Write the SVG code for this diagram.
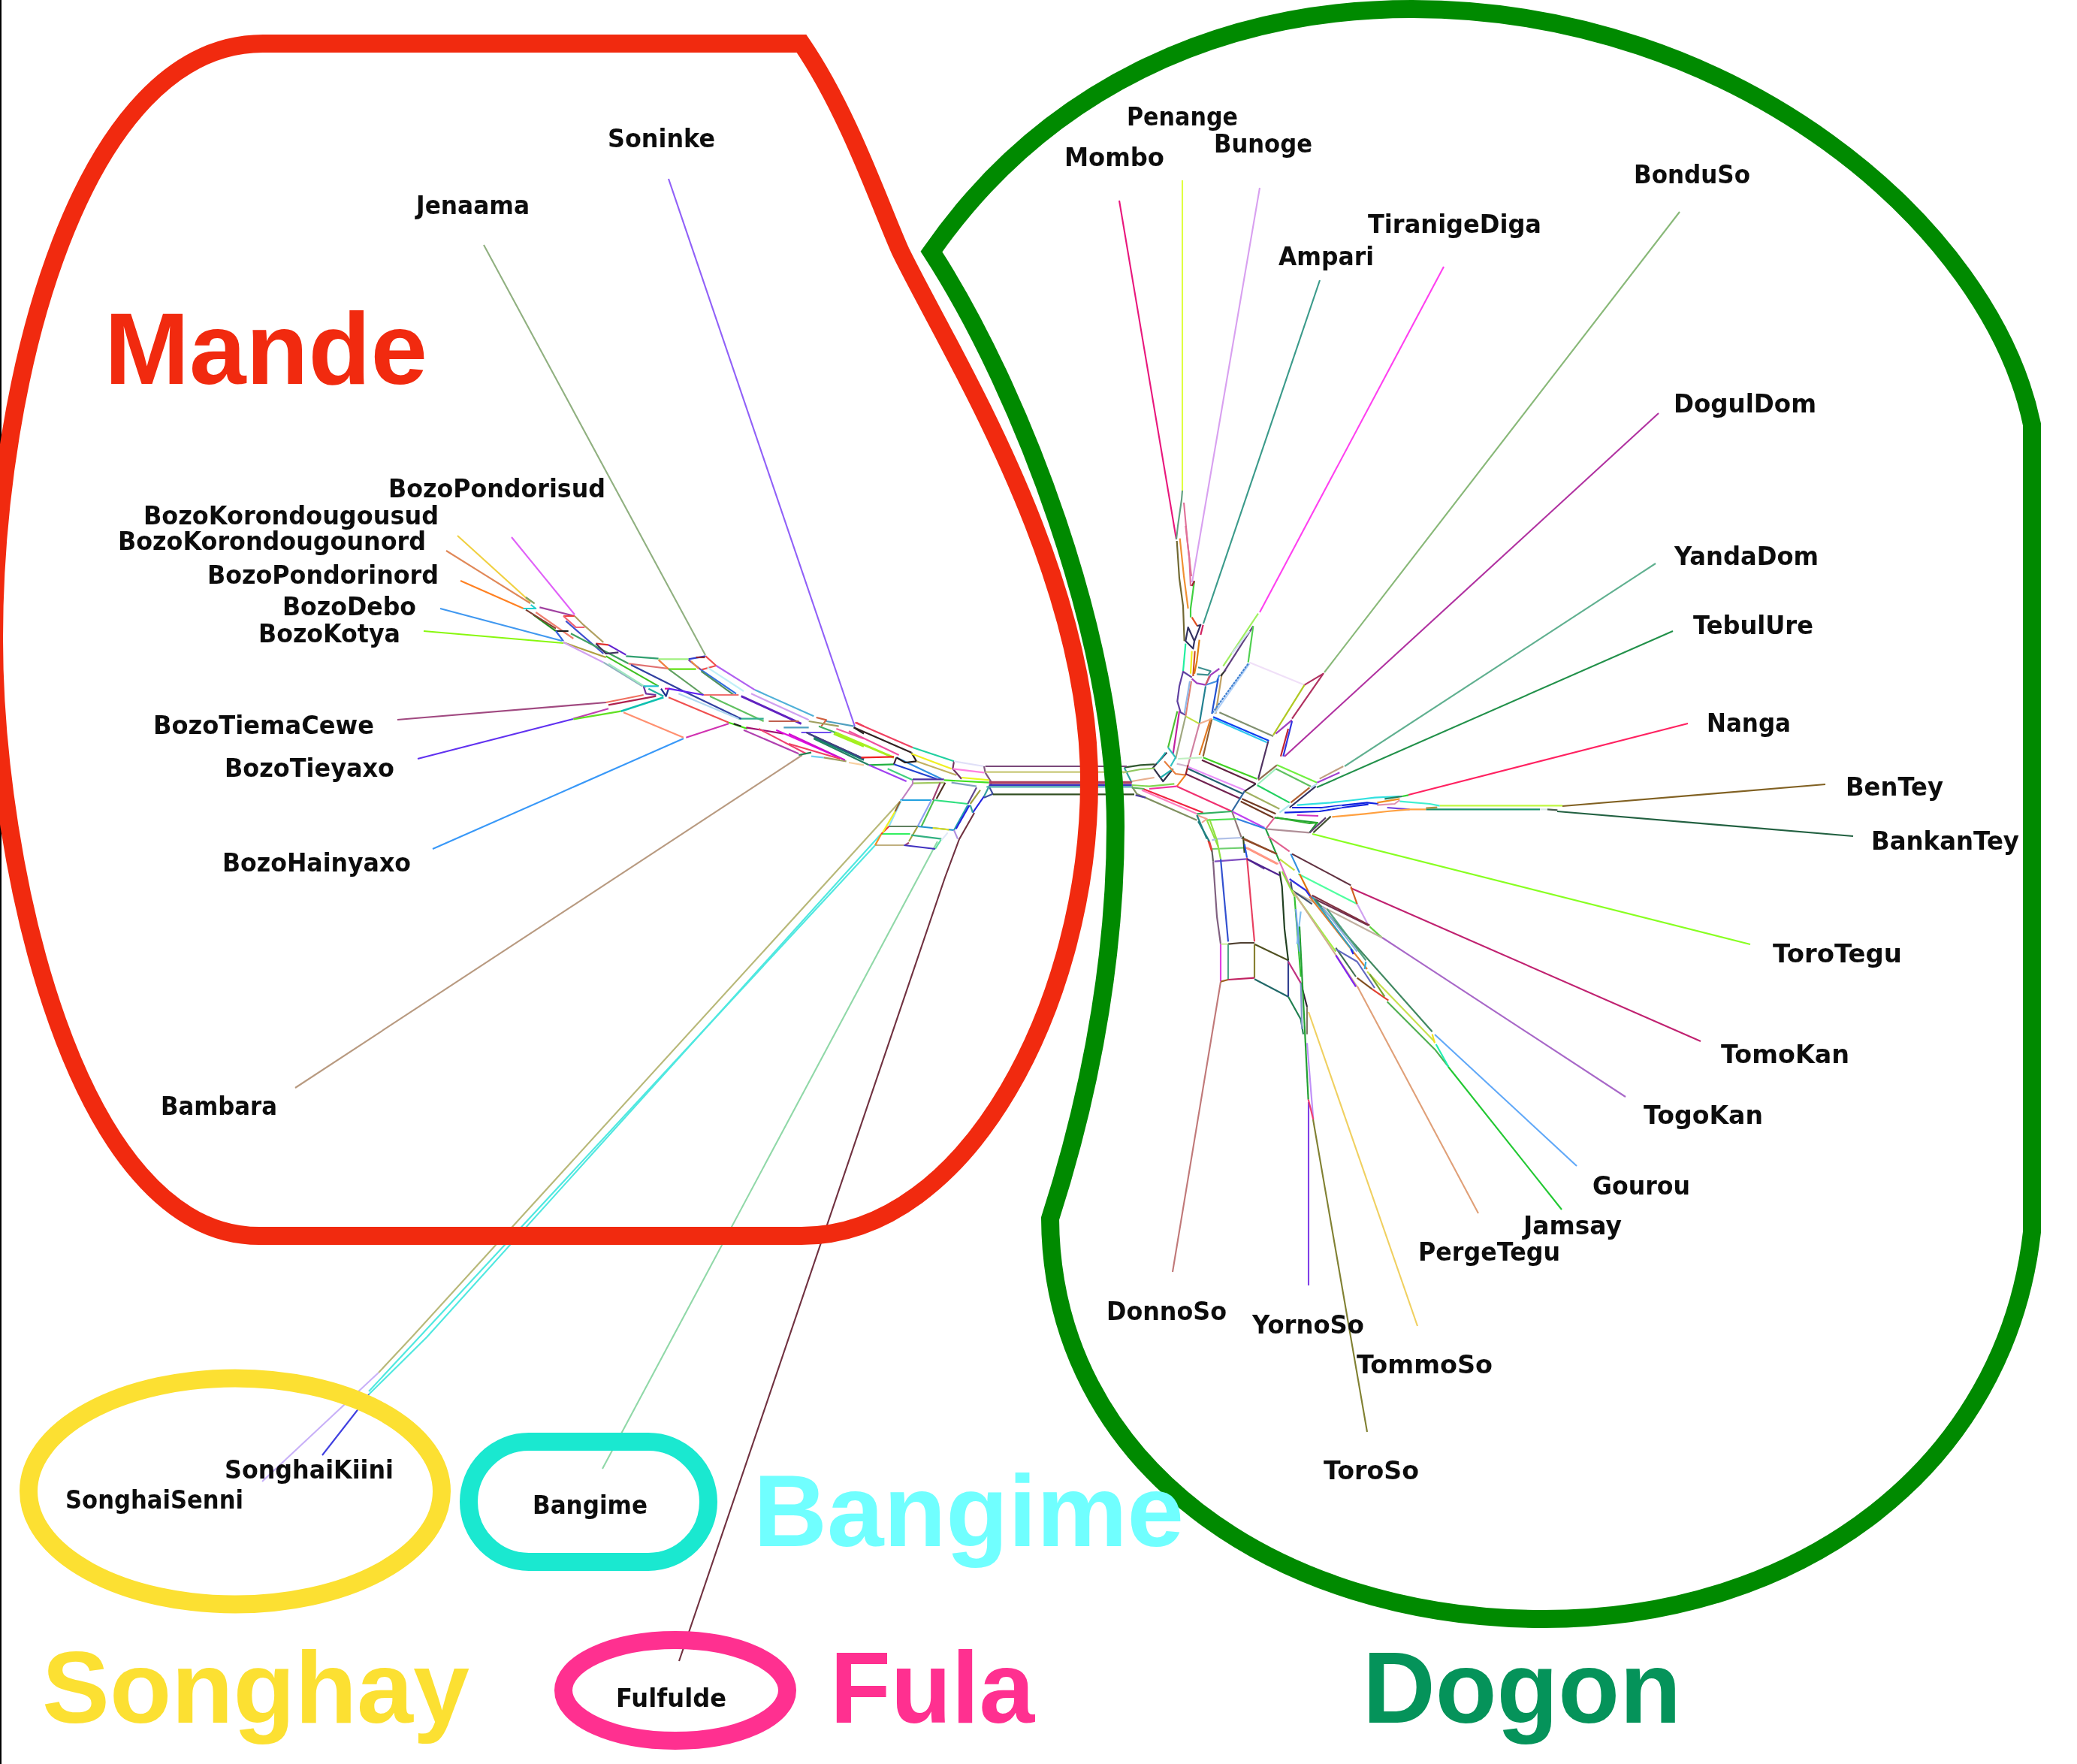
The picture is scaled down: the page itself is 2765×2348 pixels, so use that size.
<svg xmlns="http://www.w3.org/2000/svg" width="2765" height="2348" viewBox="0 0 2765 2348">
<style>
.bg{fill:#fff}
.lab{font-family:"DejaVu Sans",Verdana,sans-serif;font-weight:700;font-size:34px;fill:#111}
.big{font-family:"Liberation Sans",Arial,sans-serif;font-weight:700;font-size:135px}
.out{fill:none;stroke-width:24}
#connectors path{fill:none;stroke-linejoin:round}
.f path{stroke-width:2.1}
.z path{stroke-width:6.5}
</style>
<defs><filter id="soft" x="-2%" y="-2%" width="104%" height="104%"><feGaussianBlur stdDeviation="0.45"/></filter></defs>
<rect class="bg" width="2765" height="2348"/>
<path d="M1 0V2348" stroke="#000" stroke-width="2"/>
<g id="connectors" filter="url(#soft)">
<g class="f">
<path stroke="#e8187c" d="M1490 267 1566 718"/>
<path stroke="#e0ff40" d="M1574 240V653"/>
<path stroke="#60a080" d="M1574 653 1573 665 1568 700 1566 718"/>
<path stroke="#e07098" d="M1576 669 1581 723 1586 767"/>
<path stroke="#d8a0f0" d="M1677 250 1587 775"/>
<path stroke="#3a9a8a" d="M1757 373 1602 830"/>
<path stroke="#ff40f0" d="M1922 355 1677 815"/>
<path stroke="#88b878" d="M2236 282 1763 895"/>
<path stroke="#b030a0" d="M2208 550 1710 1007"/>
<path stroke="#60b090" d="M2204 750 1790 1020"/>
<path stroke="#20904a" d="M2227 840 1753 1048"/>
<path stroke="#ff2060" d="M2247 963 1875 1058"/>
<path stroke="#806020" d="M2430 1044 2080 1073"/>
<path stroke="#206040" d="M2467 1113 2073 1080"/>
<path stroke="#88ff20" d="M2330 1257 1747 1110"/>
<path stroke="#c02070" d="M2264 1386 1798 1182"/>
<path stroke="#a868c8" d="M2164 1460 1840 1248"/>
<path stroke="#60a8f8" d="M2099 1552 1910 1377"/>
<path stroke="#20c830" d="M2079 1610 1928 1420"/>
<path stroke="#e0a078" d="M1968 1615 1807 1313"/>
<path stroke="#f0d060" d="M1887 1765 1742 1347"/>
<path stroke="#8040e8" d="M1742 1711V1467"/>
<path stroke="#808030" d="M1820 1906 1748 1490"/>
<path stroke="#c07878" d="M1561 1693 1625 1307"/>
<path stroke="#9060f8" d="M890 238 1138 967"/>
<path stroke="#90b080" d="M644 326 939 872"/>
<path stroke="#e060f8" d="M681 715 765 818"/>
<path stroke="#f0d040" d="M609 713 706 801"/>
<path stroke="#e08858" d="M594 733 706 803"/>
<path stroke="#ff8020" d="M613 773 697 810"/>
<path stroke="#4098f0" d="M586 810 748 853"/>
<path stroke="#88f810" d="M564 840 750 856"/>
<path stroke="#a04880" d="M529 958 807 935"/>
<path stroke="#6030f0" d="M556 1010 763 957"/>
<path stroke="#3898f8" d="M576 1130 910 983"/>
<path stroke="#b89a80" d="M393 1448 1068 1005"/>
<path stroke="#c8b0f8" d="M349 1972 504 1827"/>
<path stroke="#b8b878" d="M1198 1067 548 1780 504 1827"/>
<path stroke="#50e8e0" d="M1167 1123 558 1780 491 1852"/>
<path stroke="#50e8e0" d="M1173 1110 568 1780 491 1856"/>
<path stroke="#4040e0" d="M429 1937 475 1878 491 1856"/>
<path stroke="#90d8a8" d="M802 1955 1248 1120"/>
<path stroke="#703040" d="M904 2211 1258 1168 1277 1117 1297 1082"/>
</g>
<g class="z" transform="translate(1450 700) scale(.33333)">
<path stroke="#706830" d="M350 60 360 210 375 320 380 460"/>
<path stroke="#f09030" d="M362 50 378 200 395 330"/>
<path stroke="#e07098" d="M385 0 400 130 405 240"/>
<path stroke="#40d040" d="M420 220 405 330 405 365"/>
<path stroke="#a02030" d="M420 220 410 240"/>
<path stroke="#e05020" d="M410 365 432 400"/>
<path stroke="#303060" d="M432 400 445 395 420 460 415 490 385 460 395 405 420 460"/>
<path stroke="#d02060" d="M455 395 445 435"/>
<path stroke="#e08010" d="M440 455 430 540 420 590"/>
<path stroke="#d05020" d="M422 500 415 600"/>
<path stroke="#f0f020" d="M410 500 405 590"/>
<path stroke="#20f0a0" d="M385 470 375 580"/>
<path stroke="#6040a0" d="M410 605 375 582 360 640 352 700 365 745 385 755"/>
<path stroke="#a040c0" d="M410 610 430 628 465 635 485 595 520 570"/>
<path stroke="#409090" d="M435 565 485 580 475 595 430 592"/>
<path stroke="#4090e0" d="M465 635 510 620 520 595"/>
<path stroke="#208090" d="M465 640 440 790"/>
<path stroke="#e08070" d="M408 620 385 760"/>
<path stroke="#90b8e8" d="M402 620 380 750"/>
<path stroke="#d06060" d="M480 600 465 635"/>
<path stroke="#2050d0" d="M515 610 490 750"/>
<path stroke="#c0a060" d="M530 590 505 750"/>
<path stroke="#303030" d="M545 575 525 600"/>
<path stroke="#604080" d="M655 400 540 580"/>
<path stroke="#a0f060" d="M675 350 535 560"/>
<path stroke="#d0dff0" d="M640 420 570 510"/>
<path stroke="#50d050" d="M655 400 635 545"/>
<path stroke="#b0d0f8" d="M640 550 500 750"/>
<path stroke="#4080d0" d="M635 550 490 750" stroke-dasharray="10 3"/>
<path stroke="#f0e0f8" d="M640 545 860 635"/>
<path stroke="#b0c820" d="M860 635 735 835"/>
<path stroke="#b03060" d="M860 635 935 590 810 770"/>
<path stroke="#a040c0" d="M810 775 745 830"/>
<path stroke="#3030e0" d="M810 780 775 920"/>
<path stroke="#c02030" d="M795 810 765 920"/>
<path stroke="#809070" d="M520 745 735 840"/>
<path stroke="#30c8f0" d="M495 770 710 865"/>
<path stroke="#1040f0" d="M495 763 718 858"/>
<path stroke="#503060" d="M715 860 675 1010"/>
<path stroke="#906030" d="M490 770 455 920"/>
<path stroke="#e07820" d="M485 770 440 915"/>
<path stroke="#c0e040" d="M385 760 440 790"/>
<path stroke="#f0b090" d="M440 790 490 770"/>
<path stroke="#a0a880" d="M385 760 345 930"/>
<path stroke="#d080a0" d="M440 790 395 955"/>
<path stroke="#c020a0" d="M360 740 335 910"/>
<path stroke="#50c030" d="M352 740 315 885"/>
<path stroke="#303048" d="M310 905 255 965 295 1020 335 970"/>
<path stroke="#20b0b0" d="M305 905 270 950M335 970 285 1005"/>
<path stroke="#30c0c0" d="M315 885 345 925 325 960"/>
<path stroke="#e88040" d="M300 940 345 990 385 995"/>
<path stroke="#f08020" d="M385 995 350 1040"/>
<path stroke="#c0f0c0" d="M355 930 450 925"/>
<path stroke="#d0b8d0" d="M350 950 395 960"/>
<path stroke="#a02020" d="M395 955 385 995"/>
<path stroke="#40d020" d="M455 925 670 1010"/>
<path stroke="#602040" d="M450 935 665 1030"/>
<path stroke="#e890f8" d="M395 962 620 1055"/>
<path stroke="#206070" d="M395 970 615 1070"/>
<path stroke="#702050" d="M385 990 605 1090"/>
<path stroke="#f03070" d="M350 1040 570 1140"/>
<path stroke="#f02040" d="M215 1050 455 1145"/>
<path stroke="#ff80c0" d="M210 1055 430 1150"/>
<path stroke="#809060" d="M170 1040 190 1070 430 1175"/>
<path stroke="#f030a0" d="M240 1050 350 1040"/>
<path stroke="#20d060" d="M670 1035 800 1105"/>
<path stroke="#a0b060" d="M620 1060 760 1130"/>
<path stroke="#703820" d="M610 1090 745 1150M605 1100 735 1165"/>
<path stroke="#302838" d="M665 1030 620 1060"/>
<path stroke="#3068a0" d="M620 1060 570 1140"/>
<path stroke="#907050" d="M675 1015 750 955"/>
<path stroke="#a0f0c0" d="M745 970 670 1035"/>
<path stroke="#70f040" d="M750 955 910 1025"/>
<path stroke="#60c060" d="M745 970 885 1040"/>
<path stroke="#303060" d="M905 1040 800 1125"/>
<path stroke="#b06030" d="M880 1045 805 1105"/>
<path stroke="#a040d0" d="M910 1025 1000 985"/>
<path stroke="#c0a080" d="M920 1010 1015 960"/>
<path stroke="#b0d8f0" d="M885 1045 910 1030"/>
<path stroke="#b0e8f0" d="M800 1115 760 1145"/>
<path stroke="#c040f0" d="M570 1140 700 1205"/>
<path stroke="#3080e0" d="M590 1170 705 1210"/>
<path stroke="#907878" d="M570 1140 610 1250"/>
<path stroke="#e06090" d="M705 1210 740 1165"/>
<path stroke="#b09098" d="M705 1210 880 1225"/>
<path stroke="#20a030" d="M740 1165 910 1185 880 1225"/>
<path stroke="#604070" d="M880 1225 945 1165"/>
<path stroke="#405030" d="M895 1225 965 1160"/>
<path stroke="#30b060" d="M430 1150 570 1140"/>
<path stroke="#50e050" d="M470 1175 590 1170"/>
<path stroke="#f0a090" d="M430 1155 470 1170 450 1185"/>
<path stroke="#208080" d="M430 1155 470 1250"/>
<path stroke="#f03020" d="M475 1255 490 1300"/>
<path stroke="#90e040" d="M470 1175 515 1280"/>
<path stroke="#b0c0e8" d="M490 1255 510 1250 610 1245"/>
<path stroke="#70d070" d="M490 1290 625 1285"/>
<path stroke="#8050c0" d="M500 1340 630 1330"/>
<path stroke="#906040" d="M610 1245 750 1310"/>
<path stroke="#ff9070" d="M625 1285 750 1350"/>
<path stroke="#604098" d="M630 1330 700 1370"/>
<path stroke="#305830" d="M140 965 205 955 262 952"/>
<path stroke="#90c860" d="M135 985 205 972 262 968"/>
<path stroke="#e8b090" d="M170 1020 260 1005"/>
<path stroke="#30a0a0" d="M140 965 170 1025"/>
<path stroke="#80d850" d="M170 1035 240 1040 340 1030"/>
<path stroke="#60b060" d="M170 1045 220 1050"/>
<path stroke="#5040a0" d="M185 1075 225 1085"/>
</g>
<g class="z" transform="translate(1550 1080) scale(.33333)">
<path stroke="#806080" d="M195 200 210 420 225 530"/>
<path stroke="#3050d0" d="M225 190 255 520"/>
<path stroke="#e84060" d="M330 185 360 520"/>
<path stroke="#504030" d="M255 530 305 525 360 525"/>
<path stroke="#d0f0a0" d="M225 530 255 530"/>
<path stroke="#505020" d="M360 530 495 595"/>
<path stroke="#e040e0" d="M225 530V680"/>
<path stroke="#50a888" d="M255 530V675"/>
<path stroke="#888030" d="M360 530V665"/>
<path stroke="#a06020" d="M225 680 255 672"/>
<path stroke="#c02060" d="M255 672 360 665"/>
<path stroke="#206868" d="M360 670 495 740"/>
<path stroke="#304090" d="M495 595V740"/>
<path stroke="#208050" d="M495 740 545 830 555 890"/>
<path stroke="#c03080" d="M495 600 545 685"/>
<path stroke="#302030" d="M545 685 570 780"/>
<path stroke="#8098c8" d="M545 685 550 870"/>
<path stroke="#807868" d="M570 780V890"/>
<path stroke="#204020" d="M460 240 470 300 480 470 495 595"/>
<path stroke="#30c030" d="M520 340 545 660"/>
<path stroke="#20a040" d="M405 70 460 200"/>
<path stroke="#305020" d="M315 100 320 165"/>
<path stroke="#2050e0" d="M320 130 330 185"/>
<path stroke="#904828" d="M315 110 450 170"/>
<path stroke="#ff9888" d="M330 145 455 210"/>
<path stroke="#502090" d="M330 190 460 255"/>
<path stroke="#e06090" d="M415 100 500 160"/>
<path stroke="#3090e0" d="M505 170 540 245"/>
<path stroke="#603040" d="M510 170 745 295"/>
<path stroke="#50ffa0" d="M535 250 770 370"/>
<path stroke="#d06020" d="M745 300 770 370"/>
<path stroke="#d0a0f0" d="M770 370 815 455"/>
<path stroke="#703050" d="M815 455 590 345"/>
<path stroke="#60d040" d="M820 460 870 505"/>
<path stroke="#c0b0a0" d="M870 505 515 320"/>
<path stroke="#e07010" d="M540 250 590 350"/>
<path stroke="#c0e040" d="M460 190 520 235"/>
<path stroke="#e070c0" d="M460 200 520 340"/>
<path stroke="#3030e0" d="M500 270 565 315 590 350"/>
<path stroke="#405070" d="M505 280 510 315 590 370"/>
<path stroke="#90e040" d="M470 240 520 340"/>
<path stroke="#e04040" d="M180 120 190 155"/>
<path stroke="#606060" d="M195 200 190 155"/>
<path stroke="#208080" d="M135 40 180 120"/>
<path stroke="#90e040" d="M180 30 210 115 225 190"/>
<path stroke="#80c0f0" d="M545 400 530 530"/>
</g>
<g class="z" transform="translate(1680 1150) scale(.33333)">
<path stroke="#a0f040" d="M120 105 295 350"/>
<path stroke="#d0b090" d="M125 110 380 490"/>
<path stroke="#e08030" d="M190 130 360 345 420 420"/>
<path stroke="#30a0c0" d="M200 130 365 350"/>
<path stroke="#408860" d="M210 140 680 670"/>
<path stroke="#50a080" d="M260 180 415 385"/>
<path stroke="#90b0e0" d="M240 170 380 350"/>
<path stroke="#c8e050" d="M420 430 690 710"/>
<path stroke="#50b050" d="M500 550 690 740 745 810"/>
<path stroke="#f0e020" d="M680 680 690 715"/>
<path stroke="#20f0b0" d="M695 720 745 810"/>
<path stroke="#407050" d="M295 335 375 450"/>
<path stroke="#8020f0" d="M295 365 375 490"/>
<path stroke="#6068c0" d="M295 340 380 390 450 495"/>
<path stroke="#805020" d="M380 455 440 500"/>
<path stroke="#e04030" d="M440 500 505 545"/>
<path stroke="#70a030" d="M430 440 490 530"/>
<path stroke="#30b0e0" d="M415 390 410 420"/>
<path stroke="#2020f0" d="M355 340 365 360"/>
<path stroke="#c090f8" d="M180 715 205 1020"/>
<path stroke="#f04070" d="M185 940 205 1020"/>
<path stroke="#20a030" d="M150 250 185 940"/>
<path stroke="#70a0e8" d="M135 180 150 350"/>
<path stroke="#803040" d="M200 125 430 245"/>
</g>
<g class="z" transform="translate(1700 1000) scale(.33333)">
<path stroke="#30e0e0" d="M80 215 215 205 305 195 390 185 490 180"/>
<path stroke="#1020e0" d="M60 225 180 225 270 215 360 205 405 210"/>
<path stroke="#1020e0" d="M30 245 170 240 260 225 365 212"/>
<path stroke="#d8e8f8" d="M170 232 260 220"/>
<path stroke="#40f0d0" d="M490 200 610 210 650 218"/>
<path stroke="#c0f840" d="M650 217H1140"/>
<path stroke="#189068" d="M595 232H1050"/>
<path stroke="#7040e0" d="M440 225 530 232"/>
<path stroke="#ffa040" d="M220 262 350 250 440 240 530 232 595 232"/>
<path stroke="#d030c0" d="M80 255 165 258"/>
<path stroke="#30b030" d="M0 265 130 288 165 285"/>
<path stroke="#f09020" d="M400 205 490 190"/>
<path stroke="#208060" d="M430 190 500 180"/>
<path stroke="#30d030" d="M500 180 525 175"/>
<path stroke="#e090b0" d="M400 215 470 210 490 195"/>
<path stroke="#d8e8e8" d="M1050 232H1080"/>
<path stroke="#486050" d="M1080 232 1120 235"/>
<path stroke="#b09040" d="M595 227 640 224"/>
</g>
<g class="z" transform="translate(650 760) scale(.33333)">
<path stroke="#80a060" d="M150 105 185 130"/>
<path stroke="#a040a0" d="M205 145 345 180"/>
<path stroke="#f04040" d="M300 180 345 180"/>
<path stroke="#b0a060" d="M345 180 380 215 460 285"/>
<path stroke="#f06070" d="M300 180 350 225 385 225"/>
<path stroke="#20d0d0" d="M140 150 190 150 170 135"/>
<path stroke="#209020" d="M180 175 270 240"/>
<path stroke="#804030" d="M150 155 270 230"/>
<path stroke="#f08070" d="M190 165 340 270"/>
<path stroke="#4050d0" d="M310 200 460 330"/>
<path stroke="#202020" d="M270 240 320 240"/>
<path stroke="#3060e0" d="M270 240 300 280"/>
<path stroke="#b0a040" d="M300 285 470 345"/>
<path stroke="#d0a0f0" d="M300 285 460 365"/>
<path stroke="#40a060" d="M330 250 560 370"/>
<path stroke="#6020d0" d="M480 295 550 335"/>
<path stroke="#e03030" d="M430 290 480 295"/>
<path stroke="#403060" d="M430 290 470 330 520 325"/>
<path stroke="#90b0c0" d="M460 365 615 460"/>
<path stroke="#a0e8c0" d="M480 370 630 465"/>
<path stroke="#40c020" d="M470 340 680 460"/>
<path stroke="#30a070" d="M550 340 680 350"/>
<path stroke="#a0f080" d="M680 352H800"/>
<path stroke="#e07070" d="M560 370 720 390"/>
<path stroke="#f08040" d="M680 355 720 392"/>
<path stroke="#60e010" d="M720 392H830"/>
<path stroke="#60a060" d="M720 392 860 495"/>
<path stroke="#3040d0" d="M800 352 868 340"/>
<path stroke="#902030" d="M830 345 865 345"/>
<path stroke="#f05050" d="M868 340 910 378 850 395"/>
<path stroke="#8040a0" d="M800 355 850 395"/>
<path stroke="#f09040" d="M810 360 840 390"/>
<path stroke="#b060f0" d="M910 378 1065 475"/>
<path stroke="#3070e0" d="M850 395 990 490"/>
<path stroke="#c0f0f8" d="M875 385 1020 480"/>
<path stroke="#509060" d="M850 400 980 495"/>
<path stroke="#50b0d8" d="M1065 475 1300 580"/>
<path stroke="#6020c0" d="M1010 500 1250 610" style="stroke-width:9"/>
<path stroke="#d0a0f0" d="M1050 490 1280 595"/>
<path stroke="#f07070" d="M860 495H1000"/>
<path stroke="#60c060" d="M885 500 1100 600"/>
<path stroke="#30b090" d="M1000 590H1100"/>
<path stroke="#c06050" d="M1120 600H1240"/>
<path stroke="#d06040" d="M1310 585 1350 595 1330 620"/>
<path stroke="#50a0c0" d="M1350 600 1460 620"/>
<path stroke="#a0a060" d="M1280 600 1400 620"/>
<path stroke="#3040a0" d="M570 375 780 480 1010 590"/>
<path stroke="#f05050" d="M720 505 960 605"/>
<path stroke="#b0d8f0" d="M760 490 1000 590"/>
<path stroke="#7030a0" d="M620 460 630 490 670 495"/>
<path stroke="#20c0d0" d="M620 460H680"/>
<path stroke="#20b0a0" d="M640 470 700 500"/>
<path stroke="#203090" d="M690 470 710 500 720 470"/>
<path stroke="#e010a0" d="M705 470H725"/>
<path stroke="#6020f0" d="M720 470 860 495"/>
<path stroke="#f07060" d="M470 525 620 495"/>
<path stroke="#b02050" d="M480 535 670 500"/>
<path stroke="#c040b0" d="M340 590 480 550"/>
<path stroke="#60e020" d="M340 592 530 560"/>
<path stroke="#10c0b0" d="M530 560 700 505" style="stroke-width:8"/>
<path stroke="#ff9070" d="M540 565 780 665"/>
<path stroke="#d030b0" d="M790 665 960 610"/>
<path stroke="#40e010" d="M960 605 1035 630"/>
<path stroke="#202020" d="M980 610 1010 620"/>
<path stroke="#a01070" d="M1030 625 1180 650"/>
<path stroke="#b040b0" d="M1020 635 1240 730"/>
<path stroke="#f04070" d="M1080 630 1270 730"/>
<path stroke="#e010e0" d="M1150 635 1390 740"/>
<path stroke="#50a0c0" d="M1180 625H1280"/>
<path stroke="#7050f0" d="M1250 645H1370"/>
<path stroke="#404070" d="M1280 650 1500 750"/>
<path stroke="#108070" d="M1300 665 1500 755"/>
<path stroke="#a0f020" d="M1380 650 1500 700" style="stroke-width:9"/>
<path stroke="#208050" d="M1240 735 1290 725"/>
<path stroke="#70d0f0" d="M1290 740 1340 745"/>
<path stroke="#a0a060" d="M1340 745 1430 760"/>
<path stroke="#f8d0a0" d="M1440 765 1500 775"/>
<path stroke="#202020" d="M1460 625 1500 650"/>
<path stroke="#f04050" d="M1470 605 1500 620"/>
<path stroke="#f060a0" d="M1390 630 1500 670"/>
<path stroke="#40b060" d="M1320 620 1400 650"/>
</g>
<g class="z" transform="translate(1050 930) scale(.33333)">
<path stroke="#f04060" d="M265 95 495 195"/>
<path stroke="#302020" d="M260 115 490 215"/>
<path stroke="#a8f020" d="M185 135 420 235" style="stroke-width:9"/>
<path stroke="#f050a0" d="M240 130 440 225"/>
<path stroke="#404080" d="M70 135 300 240"/>
<path stroke="#208060" d="M100 160 320 265"/>
<path stroke="#d010d0" d="M0 140 225 245"/>
<path stroke="#f04060" d="M0 180 205 240"/>
<path stroke="#f02020" d="M290 235 420 232"/>
<path stroke="#20b040" d="M320 265 420 262"/>
<path stroke="#a040f0" d="M320 265 470 330"/>
<path stroke="#40d080" d="M395 280 495 325"/>
<path stroke="#402030" d="M430 235 420 262"/>
<path stroke="#2040d0" d="M420 262 590 320"/>
<path stroke="#3090e0" d="M430 235 610 320"/>
<path stroke="#201818" d="M490 215 510 250 465 255 430 235"/>
<path stroke="#20d0a0" d="M495 195 660 250"/>
<path stroke="#f0f020" d="M490 220 650 280"/>
<path stroke="#c0b060" d="M510 250 670 305"/>
<path stroke="#703060" d="M660 250 655 280 690 320"/>
<path stroke="#e0e0f8" d="M660 250 780 270"/>
<path stroke="#ff80e0" d="M655 280 780 295"/>
<path stroke="#805880" d="M780 270 785 295 810 335"/>
<path stroke="#e8f820" d="M690 315 800 325"/>
<path stroke="#40e020" d="M620 325 800 335"/>
<path stroke="#80a0c0" d="M650 335 750 350"/>
<path stroke="#5030a0" d="M495 322H620"/>
<path stroke="#a0c860" d="M495 338 620 335"/>
<path stroke="#c080c0" d="M495 325V340L450 405"/>
<path stroke="#20a0e0" d="M445 405H570"/>
<path stroke="#90e0f8" d="M450 405 400 510"/>
<path stroke="#90a0f0" d="M570 405 515 510"/>
<path stroke="#50c050" d="M580 405 530 510"/>
<path stroke="#30e080" d="M580 405 715 420"/>
<path stroke="#a04070" d="M605 335 575 405"/>
<path stroke="#503020" d="M625 335 590 400"/>
<path stroke="#604890" d="M750 355 715 420"/>
<path stroke="#a0a040" d="M765 365 725 420"/>
<path stroke="#20a0b0" d="M715 425 660 525"/>
<path stroke="#2020e0" d="M722 425 668 520"/>
<path stroke="#2020e0" d="M780 390 735 455"/>
<path stroke="#30a0a0" d="M735 455 725 425"/>
<path stroke="#608060" d="M400 510H515"/>
<path stroke="#2090d0" d="M515 510 660 525"/>
<path stroke="#e0e020" d="M575 516 640 523"/>
<path stroke="#a0a040" d="M515 510 480 570"/>
<path stroke="#a04070" d="M480 575 465 585"/>
<path stroke="#30f060" d="M370 540H485"/>
<path stroke="#30b080" d="M490 545 610 560"/>
<path stroke="#60e0a0" d="M610 560 585 600"/>
<path stroke="#c0b080" d="M345 585H460"/>
<path stroke="#4030c0" d="M460 585 585 600"/>
<path stroke="#f09020" d="M370 540 345 585"/>
<path stroke="#f03030" d="M400 510 370 540"/>
<path stroke="#f0f020" d="M425 450 375 535"/>
<path stroke="#906030" d="M445 410 425 450"/>
<path stroke="#e0e8f8" d="M610 565 635 535"/>
<path stroke="#b090e0" d="M660 525 675 560"/>
<path stroke="#30a0a0" d="M800 350 780 390"/>
<path stroke="#4050a0" d="M810 340 800 350 815 380 780 395"/>
<path stroke="#7a4a7a" d="M785 270H1350"/>
<path stroke="#c8c878" d="M785 293H1350"/>
<path stroke="#b04060" d="M800 335H1370" style="stroke-width:11"/>
<path stroke="#3830c0" d="M800 345H1370" style="stroke-width:7"/>
<path stroke="#50b0b0" d="M790 352H1370"/>
<path stroke="#305020" d="M815 382H1380"/>
</g>
</g>
<g id="group-mande"><path class="out" stroke="#f12a0f" d="M350 58H1067C1130 150 1172 275 1199 335C1265 470 1450 760 1450 1040C1450 1330 1290 1645 1067 1645H345C100 1645 -8 1150 -8 850C-8 500 110 58 350 58Z"/><text class="big" fill="#f12a0f" x="139" y="511" textLength="430" lengthAdjust="spacingAndGlyphs">Mande</text></g>
<g id="group-dogon"><path class="out" stroke="#008a00" stroke-linejoin="miter" d="M1240 335C1390 120 1620 12 1880 12C2310 12 2650 300 2705 565V1640C2670 1950 2400 2155 2055 2155C1700 2155 1400 1950 1398 1622C1460 1430 1485 1250 1485 1100C1485 850 1360 520 1240 335Z"/><text class="big" fill="#05935a" x="1814" y="2293" textLength="424" lengthAdjust="spacingAndGlyphs">Dogon</text></g>
<g id="group-songhay"><ellipse class="out" stroke="#fce032" cx="313" cy="1985" rx="275" ry="150.500"/><text class="big" fill="#fce032" x="56" y="2293" textLength="569" lengthAdjust="spacingAndGlyphs">Songhay</text></g>
<g id="group-bangime"><rect class="out" stroke="#1ae8d0" x="624" y="1919" width="319" height="160" rx="80" ry="80"/><text class="big" fill="#70ffff" x="1003" y="2058" textLength="573" lengthAdjust="spacingAndGlyphs">Bangime</text></g>
<g id="group-fula"><ellipse class="out" stroke="#ff3090" cx="899" cy="2250" rx="149" ry="67"/><text class="big" fill="#ff3090" x="1105" y="2293" textLength="272" lengthAdjust="spacingAndGlyphs">Fula</text></g>
<g id="labels" filter="url(#soft)" transform="translate(0 -1.5)">
<g id="n-Soninke"><text class="lab" x="809" y="197" textLength="143" lengthAdjust="spacingAndGlyphs">Soninke</text></g>
<g id="n-Jenaama"><text class="lab" x="554" y="286" textLength="151" lengthAdjust="spacingAndGlyphs">Jenaama</text></g>
<g id="n-BozoPondorisud"><text class="lab" x="517" y="663" textLength="289" lengthAdjust="spacingAndGlyphs">BozoPondorisud</text></g>
<g id="n-BozoKorondougousud"><text class="lab" x="191" y="699" textLength="393" lengthAdjust="spacingAndGlyphs">BozoKorondougousud</text></g>
<g id="n-BozoKorondougounord"><text class="lab" x="157" y="733" textLength="410" lengthAdjust="spacingAndGlyphs">BozoKorondougounord</text></g>
<g id="n-BozoPondorinord"><text class="lab" x="276" y="778" textLength="308" lengthAdjust="spacingAndGlyphs">BozoPondorinord</text></g>
<g id="n-BozoDebo"><text class="lab" x="376" y="820" textLength="178" lengthAdjust="spacingAndGlyphs">BozoDebo</text></g>
<g id="n-BozoKotya"><text class="lab" x="344" y="856" textLength="189" lengthAdjust="spacingAndGlyphs">BozoKotya</text></g>
<g id="n-BozoTiemaCewe"><text class="lab" x="204" y="978" textLength="294" lengthAdjust="spacingAndGlyphs">BozoTiemaCewe</text></g>
<g id="n-BozoTieyaxo"><text class="lab" x="299" y="1035" textLength="226" lengthAdjust="spacingAndGlyphs">BozoTieyaxo</text></g>
<g id="n-BozoHainyaxo"><text class="lab" x="296" y="1161" textLength="251" lengthAdjust="spacingAndGlyphs">BozoHainyaxo</text></g>
<g id="n-Bambara"><text class="lab" x="214" y="1485" textLength="155" lengthAdjust="spacingAndGlyphs">Bambara</text></g>
<g id="n-Mombo"><text class="lab" x="1417" y="222" textLength="133" lengthAdjust="spacingAndGlyphs">Mombo</text></g>
<g id="n-Penange"><text class="lab" x="1500" y="168" textLength="148" lengthAdjust="spacingAndGlyphs">Penange</text></g>
<g id="n-Bunoge"><text class="lab" x="1616" y="204" textLength="131" lengthAdjust="spacingAndGlyphs">Bunoge</text></g>
<g id="n-Ampari"><text class="lab" x="1702" y="354" textLength="127" lengthAdjust="spacingAndGlyphs">Ampari</text></g>
<g id="n-TiranigeDiga"><text class="lab" x="1821" y="311" textLength="231" lengthAdjust="spacingAndGlyphs">TiranigeDiga</text></g>
<g id="n-BonduSo"><text class="lab" x="2175" y="245" textLength="155" lengthAdjust="spacingAndGlyphs">BonduSo</text></g>
<g id="n-DogulDom"><text class="lab" x="2228" y="550" textLength="190" lengthAdjust="spacingAndGlyphs">DogulDom</text></g>
<g id="n-YandaDom"><text class="lab" x="2229" y="753" textLength="192" lengthAdjust="spacingAndGlyphs">YandaDom</text></g>
<g id="n-TebulUre"><text class="lab" x="2254" y="845" textLength="160" lengthAdjust="spacingAndGlyphs">TebulUre</text></g>
<g id="n-Nanga"><text class="lab" x="2272" y="975" textLength="112" lengthAdjust="spacingAndGlyphs">Nanga</text></g>
<g id="n-BenTey"><text class="lab" x="2457" y="1060" textLength="130" lengthAdjust="spacingAndGlyphs">BenTey</text></g>
<g id="n-BankanTey"><text class="lab" x="2491" y="1132" textLength="197" lengthAdjust="spacingAndGlyphs">BankanTey</text></g>
<g id="n-ToroTegu"><text class="lab" x="2360" y="1282" textLength="172" lengthAdjust="spacingAndGlyphs">ToroTegu</text></g>
<g id="n-TomoKan"><text class="lab" x="2291" y="1416" textLength="171" lengthAdjust="spacingAndGlyphs">TomoKan</text></g>
<g id="n-TogoKan"><text class="lab" x="2188" y="1497" textLength="159" lengthAdjust="spacingAndGlyphs">TogoKan</text></g>
<g id="n-Gourou"><text class="lab" x="2120" y="1591" textLength="130" lengthAdjust="spacingAndGlyphs">Gourou</text></g>
<g id="n-Jamsay"><text class="lab" x="2028" y="1644" textLength="131" lengthAdjust="spacingAndGlyphs">Jamsay</text></g>
<g id="n-PergeTegu"><text class="lab" x="1888" y="1679" textLength="189" lengthAdjust="spacingAndGlyphs">PergeTegu</text></g>
<g id="n-TommoSo"><text class="lab" x="1806" y="1829" textLength="181" lengthAdjust="spacingAndGlyphs">TommoSo</text></g>
<g id="n-YornoSo"><text class="lab" x="1667" y="1776" textLength="149" lengthAdjust="spacingAndGlyphs">YornoSo</text></g>
<g id="n-DonnoSo"><text class="lab" x="1473" y="1758" textLength="160" lengthAdjust="spacingAndGlyphs">DonnoSo</text></g>
<g id="n-ToroSo"><text class="lab" x="1762" y="1970" textLength="127" lengthAdjust="spacingAndGlyphs">ToroSo</text></g>
<g id="n-SonghaiKiini"><text class="lab" x="299" y="1969" textLength="225" lengthAdjust="spacingAndGlyphs">SonghaiKiini</text></g>
<g id="n-SonghaiSenni"><text class="lab" x="87" y="2009" textLength="237" lengthAdjust="spacingAndGlyphs">SonghaiSenni</text></g>
<g id="n-Bangime"><text class="lab" x="709" y="2016" textLength="153" lengthAdjust="spacingAndGlyphs">Bangime</text></g>
<g id="n-Fulfulde"><text class="lab" x="820" y="2273" textLength="147" lengthAdjust="spacingAndGlyphs">Fulfulde</text></g>
</g>
</svg>
